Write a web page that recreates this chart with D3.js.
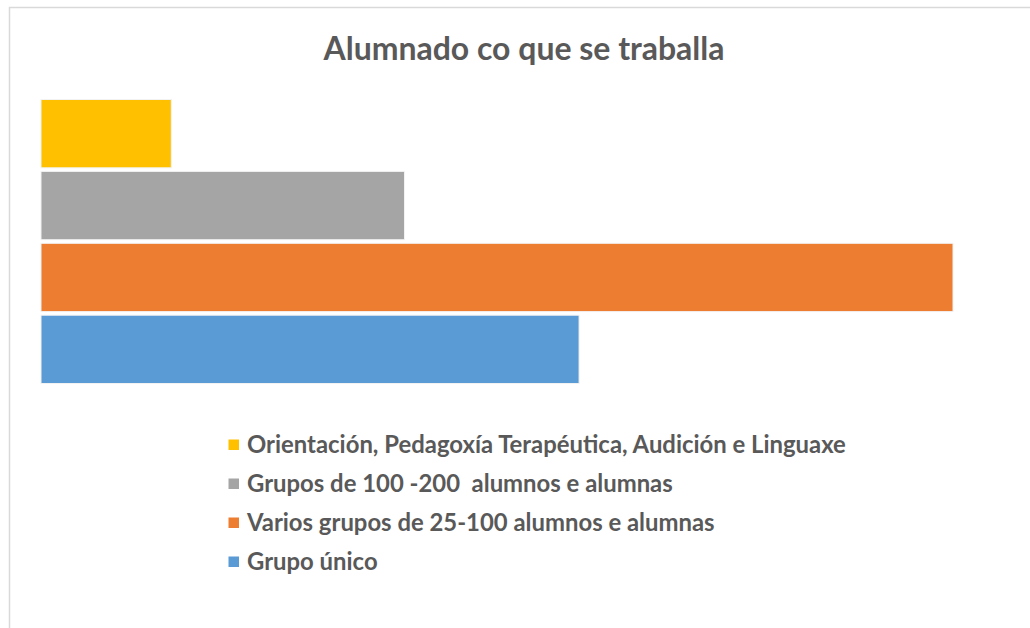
<!DOCTYPE html>
<html><head><meta charset="utf-8">
<script src="https://cdn.jsdelivr.net/npm/d3@7"></script>
<style>html,body{margin:0;padding:0;background:#fff;}svg{display:block;}text{white-space:pre;}</style>
</head><body>
<script>
const title = "Alumnado co que se traballa";
const categories = [
  "Orientación, Pedagoxía Terapéutica, Audición e Linguaxe",
  "Grupos de 100 -200  alumnos e alumnas",
  "Varios grupos de 25-100 alumnos e alumnas",
  "Grupo único"
];
const values = [10, 27.9, 70, 41.3];
const colors = ["#FFC000", "#A5A5A5", "#ED7D31", "#5B9BD5"];

const W = 1030, H = 628;
const svg = d3.select("body").append("svg").attr("width", W).attr("height", H);

// chart frame
svg.append("path").attr("d", `M9.5,${H} V7.5 H${W}`).attr("fill","none").attr("stroke","#d9d9d9").attr("stroke-width",1.5);

const x = d3.scaleLinear().domain([0, 70]).range([41, 953]);
const y = d3.scaleBand().domain(categories).range([99.5, 383.5]).paddingInner(0.05);

svg.selectAll("rect.bar").data(categories).join("rect").attr("class","bar")
  .attr("x", x(0)).attr("y", d => y(d))
  .attr("width", (d,i) => x(values[i]) - x(0))
  .attr("height", y.bandwidth())
  .attr("fill", (d,i) => colors[i])
  .attr("stroke", "#f2f2f2").attr("stroke-width", 1);

const font = "Lato, 'Open Sans', sans-serif";
function fit(sel, target) {
  const n = sel.node();
  const fs = parseFloat(sel.attr("font-size"));
  const w = n.getComputedTextLength();
  sel.attr("font-size", fs * target / w);
}

const t = svg.append("text").attr("x", 524).attr("y", 60).attr("text-anchor","middle")
  .attr("font-family", font).attr("font-weight", 700).attr("font-size", 28)
  .attr("fill", "#595959").text(title);
fit(t, 401);

const ly = d3.scalePoint().domain(categories).range([445, 562]);
const lg = svg.append("g");
lg.selectAll("rect").data(categories).join("rect")
  .attr("x", 228.5).attr("y", d => ly(d) - 5.5).attr("width", 10.5).attr("height", 10.5)
  .attr("fill", (d,i) => colors[i]);
const lt = lg.selectAll("text").data(categories).join("text")
  .attr("x", 247).attr("y", d => ly(d)).attr("dy", "0.35em")
  .attr("font-family", font).attr("font-weight", 700).attr("font-size", 20)
  .attr("fill", "#595959").text(d => d);
// scale legend font so the longest line matches the reference width
const first = lt.filter((d,i) => i === 0);
const w0 = first.node().getComputedTextLength();
lt.attr("font-size", 20 * 599 / w0);
</script>
</body></html>
